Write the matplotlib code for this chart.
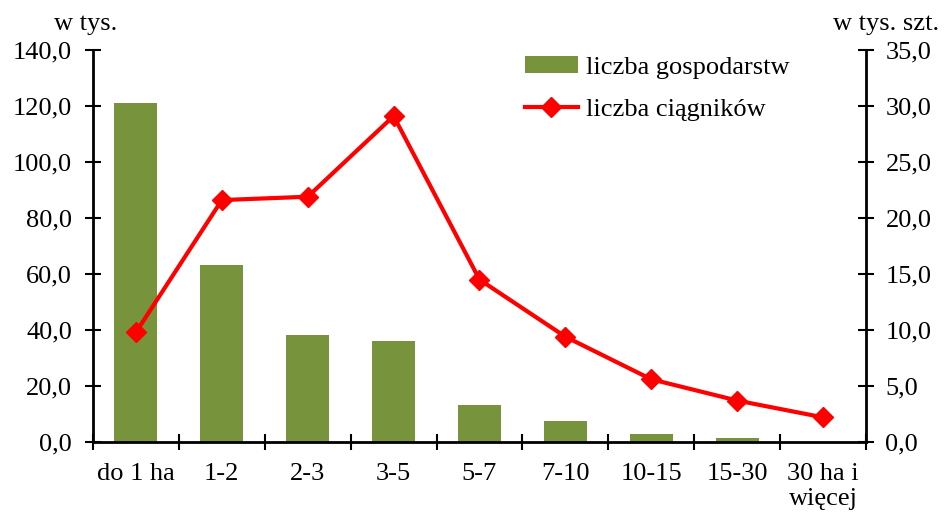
import matplotlib
matplotlib.use("Agg")
import matplotlib.pyplot as plt
import numpy as np
from matplotlib.ticker import FuncFormatter, MultipleLocator, FixedLocator
from matplotlib.lines import Line2D
from matplotlib.patches import Patch

categories = ["do 1 ha", "1-2", "2-3", "3-5", "5-7", "7-10", "10-15", "15-30", "30 ha i\nwięcej"]
gospodarstwa = [121.1, 63.2, 38.2, 36.1, 13.2, 7.4, 3.0, 1.4, 0.1]
ciagniki = [9.8, 21.6, 21.9, 29.1, 14.5, 9.4, 5.6, 3.7, 2.2]

plt.rcParams['font.family'] = ['Liberation Serif', 'DejaVu Serif']
plt.rcParams['font.size'] = 19

fig = plt.figure(figsize=(9.45, 5.15), dpi=100)
ax = fig.add_axes([93/945, 1-442/515, (866-93)/945, (442-50)/515])
ax2 = ax.twinx()

x = np.arange(len(categories))
bar_color = "#77933C"
ax.bar(x, gospodarstwa, width=0.5, color=bar_color, zorder=2)
ax2.plot(x, ciagniki, color="#FF0000", lw=3, marker="D", markersize=10.5, zorder=3)

ax.set_xlim(-0.5, len(categories)-0.5)
ax.set_ylim(0, 140)
ax2.set_ylim(0, 35)

fmt = FuncFormatter(lambda v, p: f"{v:.1f}".replace(".", ","))
ax.yaxis.set_major_locator(MultipleLocator(20))
ax.yaxis.set_major_formatter(fmt)
ax2.yaxis.set_major_locator(MultipleLocator(5))
ax2.yaxis.set_major_formatter(fmt)

ax.set_xticks(x)
ax.set_xticklabels(categories, linespacing=1.2)
ax.xaxis.set_minor_locator(FixedLocator(np.arange(-0.5, len(categories), 1)))
ax.tick_params(axis='x', which='major', length=0, pad=15)
ax.tick_params(axis='x', which='minor', direction='inout', length=12, width=1.5)
ax.tick_params(axis='y', direction='inout', length=12, width=1.5, pad=9)
ax2.tick_params(axis='y', direction='inout', length=12, width=1.5, pad=8)

for a in (ax, ax2):
    a.spines['top'].set_visible(False)
    for s in ('left', 'right', 'bottom'):
        a.spines[s].set_linewidth(2)
ax.spines['right'].set_visible(False)
ax2.spines['left'].set_visible(False)
ax2.spines['bottom'].set_visible(False)

fig.text(86/945, 1-24/515, "w tys.", ha='center', va='center', fontsize=19)
fig.text(886/945, 1-24/515, "w tys. szt.", ha='center', va='center', fontsize=19)

handles = [Patch(facecolor=bar_color, edgecolor='none'),
           Line2D([0], [0], color="#FF0000", lw=3, marker="D", markersize=10.5)]
ax2.legend(handles, ["liczba gospodarstw", "liczba ciągników"], loc='upper left',
           bbox_to_anchor=(0.528, 1.045), frameon=False, fontsize=19,
           handlelength=2.0, handleheight=0.6, labelspacing=0.75, handletextpad=0.3)

fig.savefig("out.png", dpi=100)
